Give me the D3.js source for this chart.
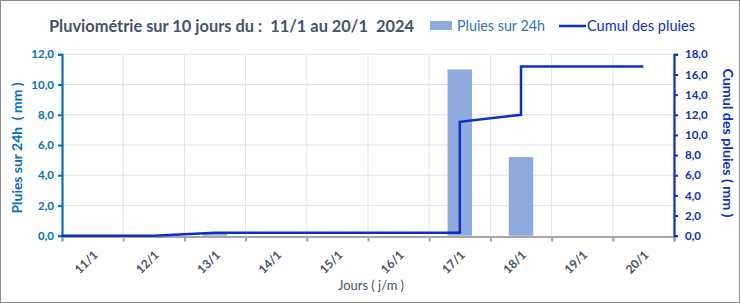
<!DOCTYPE html>
<html>
<head>
<meta charset="utf-8">
<script src="https://cdn.jsdelivr.net/npm/d3@7"></script>
<style>
  body { margin: 0; background: #fff; }
  svg { display: block; font-family: Lato, "Open Sans", sans-serif; }
  text { white-space: pre; }
</style>
</head>
<body>
<div id="chart"></div>
<script>
// categories (days) and values
const days = ['11/1', '12/1', '13/1', '14/1', '15/1', '16/1', '17/1', '18/1', '19/1', '20/1'];
const rain24h = [0, 0, 0.2, 0, 0, 0, 11.0, 5.2, 0, 0];
// cumulative line: x in day units (0 = left edge, i + 0.5 = centre of day i)
const cumulX = [0, 1.5, 2.5, 3.5, 4.5, 5.5, 6.5, 6.5, 7.5, 7.5, 8.5, 9.5];
const cumulY = [0, 0, 0.3, 0.3, 0.3, 0.3, 0.3, 11.3, 12.0, 16.8, 16.8, 16.8];
const leftTicks = [0, 2, 4, 6, 8, 10, 12];
const rightTicks = [0, 2, 4, 6, 8, 10, 12, 14, 16, 18];

const W = 740, H = 303;
const plot = { left: 62, right: 674, top: 54.3, bottom: 235.7 };
const greyText = '#44546a', blueL = '#0070c0', blueR = '#0a2fcc', barCol = '#8faadc';

const svg = d3.select('#chart').append('svg')
    .attr('width', W).attr('height', H);

svg.append('rect')
    .attr('x', 0.5).attr('y', 0.5)
    .attr('width', W - 1).attr('height', H - 1)
    .attr('fill', '#fff').attr('stroke', '#8c8c8c');

const x = d3.scaleLinear().domain([0, days.length]).range([plot.left, plot.right]);
const yL = d3.scaleLinear().domain([0, 12]).range([plot.bottom, plot.top]);
const yR = d3.scaleLinear().domain([0, 18]).range([plot.bottom, plot.top]);

// gridlines
const grid = svg.append('g').attr('stroke', '#e0e3ea').attr('stroke-width', 1);
grid.selectAll('.h').data(leftTicks.slice(1))
    .enter().append('line')
    .attr('x1', plot.left).attr('x2', plot.right)
    .attr('y1', d => yL(d)).attr('y2', d => yL(d));
grid.selectAll('.v').data(d3.range(1, days.length))
    .enter().append('line')
    .attr('x1', d => x(d)).attr('x2', d => x(d))
    .attr('y1', plot.top).attr('y2', plot.bottom);

// bars
const barW = (x(1) - x(0)) * 0.4;
svg.append('g').selectAll('rect')
    .data(rain24h)
    .enter().append('rect')
    .attr('x', (d, i) => x(i + 0.5) - barW / 2)
    .attr('width', barW)
    .attr('y', d => yL(d))
    .attr('height', d => yL(0) - yL(d))
    .attr('fill', barCol);

// bottom axis
const xAxis = svg.append('g').attr('transform', `translate(0,${plot.bottom + 0.8})`)
    .call(d3.axisBottom(x).tickValues(d3.range(0, days.length + 1)).tickSize(5).tickFormat(''));
xAxis.select('.domain').attr('stroke', '#a6a6a6').attr('stroke-width', 2.2);
xAxis.selectAll('.tick line').attr('stroke', '#a6a6a6').attr('stroke-width', 2);

svg.append('g').selectAll('text')
    .data(days)
    .enter().append('text')
    .attr('transform', (d, i) => `translate(${x(i + 0.5) + 6},${plot.bottom + 20}) rotate(-45)`)
    .attr('text-anchor', 'end')
    .attr('fill', greyText)
    .attr('font-size', 12)
    .attr('font-weight', 700)
    .text(d => d);

// left axis
const axL = svg.append('g').attr('transform', `translate(${plot.left},0)`)
    .call(d3.axisLeft(yL).tickValues(leftTicks).tickSize(4).tickPadding(4)
        .tickFormat(d => d3.format('.1f')(d).replace('.', ',')));
axL.select('.domain').attr('stroke', blueL).attr('stroke-width', 2.2);
axL.selectAll('.tick line').attr('stroke', blueL).attr('stroke-width', 2);
axL.selectAll('.tick text').attr('fill', blueL).attr('font-size', 11.5)
    .attr('font-weight', 700).attr('font-family', 'Lato, sans-serif');

// right axis
const axR = svg.append('g').attr('transform', `translate(${plot.right},0)`)
    .call(d3.axisRight(yR).tickValues(rightTicks).tickSize(4).tickPadding(7)
        .tickFormat(d => d3.format('.1f')(d).replace('.', ',')));
axR.select('.domain').attr('stroke', blueR).attr('stroke-width', 2.2);
axR.selectAll('.tick line').attr('stroke', blueR).attr('stroke-width', 2);
axR.selectAll('.tick text').attr('fill', blueR).attr('font-size', 11.5)
    .attr('font-weight', 700).attr('font-family', 'Lato, sans-serif');

// cumulative line
const line = d3.line().x(d => x(d[0])).y(d => yR(d[1]));
svg.append('path')
    .datum(d3.zip(cumulX, cumulY))
    .attr('d', line)
    .attr('fill', 'none')
    .attr('stroke', blueR)
    .attr('stroke-width', 2.5);

// helper: squeeze text to a width measured on the picture
function fit(sel, w) {
    const len = sel.node().getComputedTextLength();
    if (len > 0) sel.attr('textLength', w).attr('lengthAdjust', 'spacingAndGlyphs');
    return sel;
}

// axis titles
fit(svg.append('text')
    .attr('transform', 'translate(22,148) rotate(-90)')
    .attr('text-anchor', 'middle')
    .attr('fill', blueL).attr('font-size', 13.5).attr('font-weight', 700)
    .text('Pluies sur 24h  ( mm )'), 131);

fit(svg.append('text')
    .attr('transform', 'translate(723,143) rotate(90)')
    .attr('text-anchor', 'middle')
    .attr('fill', blueR).attr('font-size', 13.5).attr('font-weight', 700)
    .text('Cumul des pluies ( mm )'), 149);

fit(svg.append('text')
    .attr('x', 371).attr('y', 290)
    .attr('text-anchor', 'middle')
    .attr('fill', greyText).attr('font-size', 14)
    .text('Jours ( j/m )'), 66);

// title
fit(svg.append('text')
    .attr('x', 49).attr('y', 32)
    .attr('fill', greyText).attr('font-size', 17).attr('font-weight', 700)
    .text('Pluviométrie sur 10 jours du :  11/1 au 20/1  2024'), 365);

// legend
svg.append('rect')
    .attr('x', 430).attr('y', 21).attr('width', 22).attr('height', 9)
    .attr('fill', barCol);
fit(svg.append('text')
    .attr('x', 457).attr('y', 31)
    .attr('fill', '#2e75b6').attr('font-size', 14.5)
    .text('Pluies sur 24h'), 88);
svg.append('line')
    .attr('x1', 559).attr('x2', 586).attr('y1', 26).attr('y2', 26)
    .attr('stroke', blueR).attr('stroke-width', 2.5);
fit(svg.append('text')
    .attr('x', 587).attr('y', 31)
    .attr('fill', blueR).attr('font-size', 14.5)
    .text('Cumul des pluies'), 108);
</script>
</body>
</html>
